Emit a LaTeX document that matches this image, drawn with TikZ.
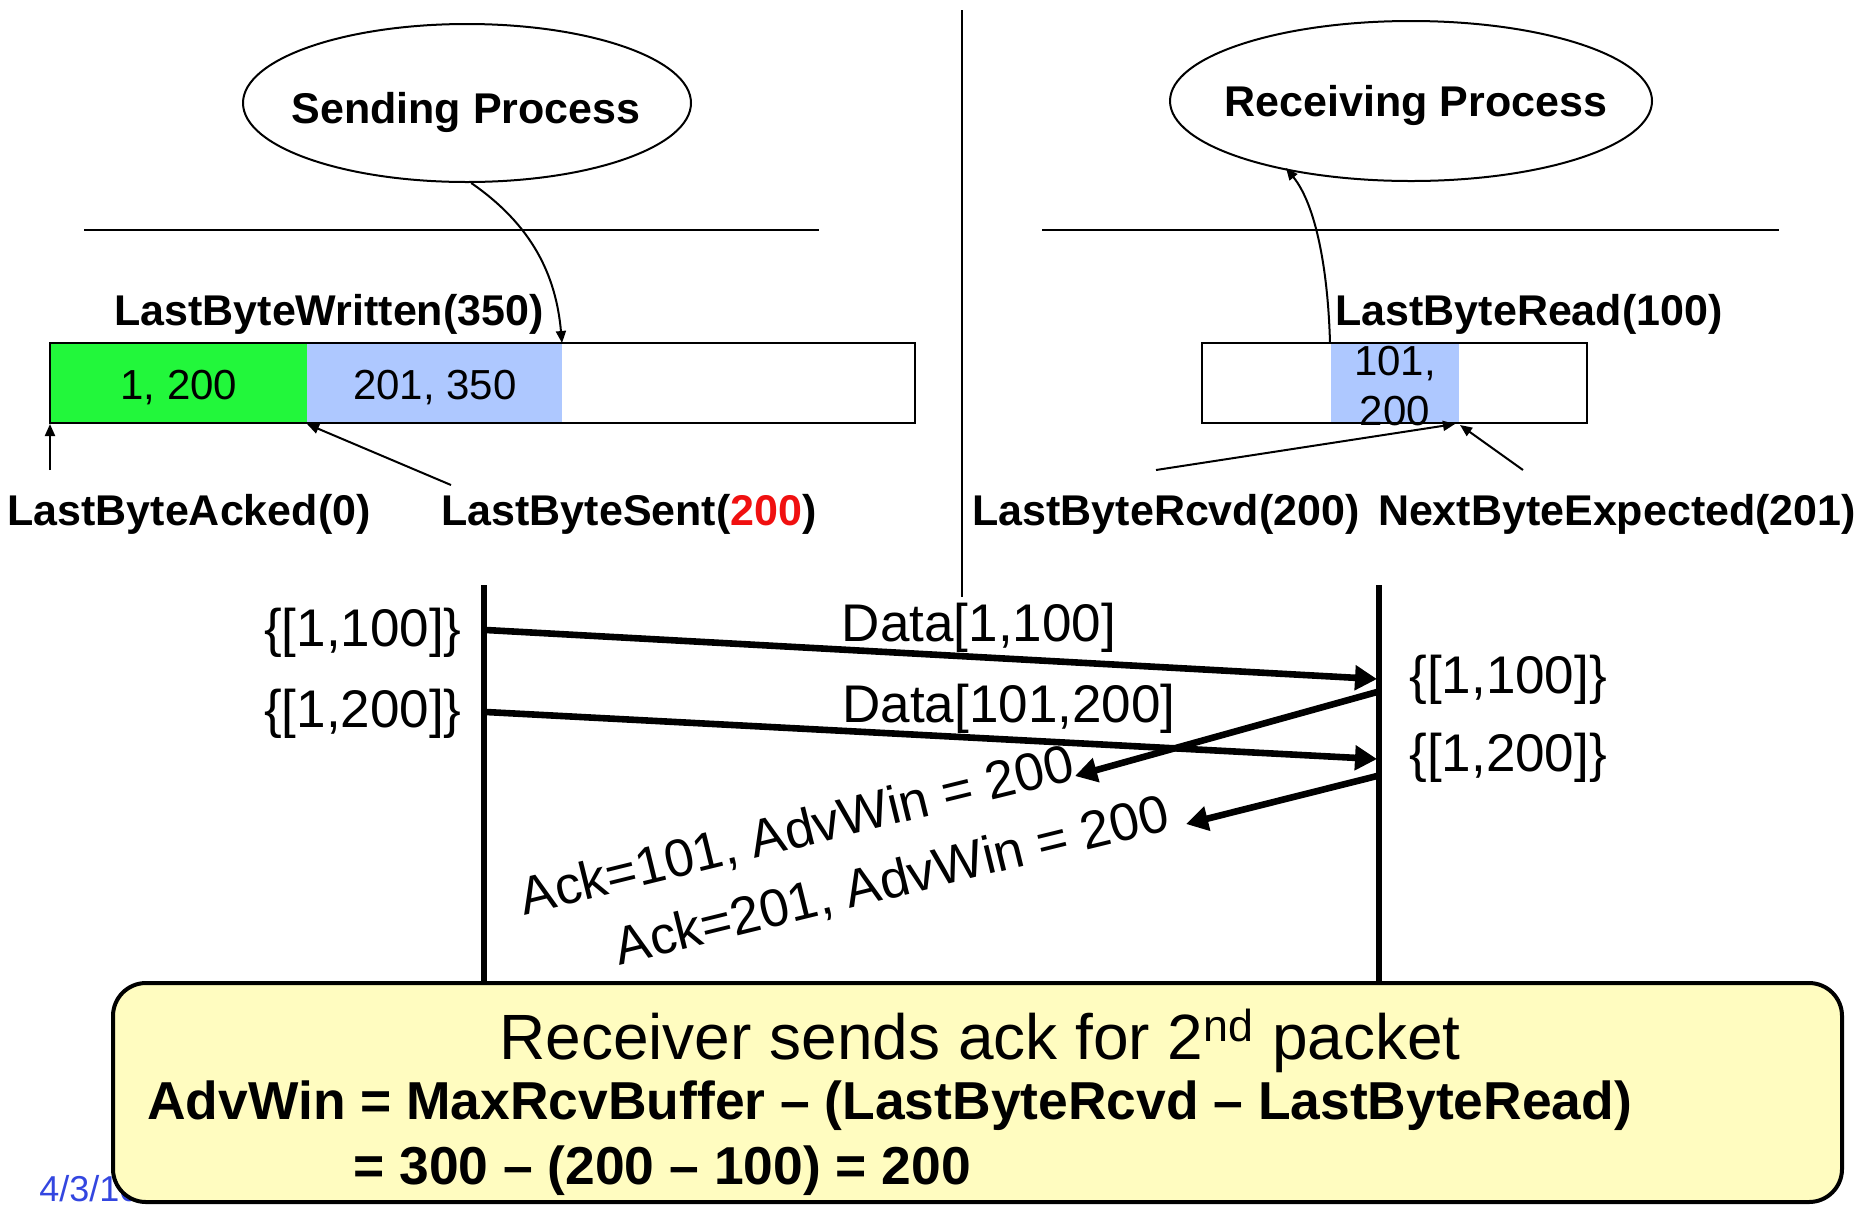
\documentclass[tikz,border=0pt]{standalone}
\usepackage{fontspec}
\setmainfont{Liberation Sans}
\usetikzlibrary{arrows.meta,shapes.geometric}

\definecolor{ackgreen}{HTML}{22F73B}
\definecolor{sentblue}{HTML}{AEC8FF}
\definecolor{noteyellow}{HTML}{FFFCC0}
\definecolor{dateblue}{HTML}{3346E0}
\definecolor{hotred}{HTML}{F01010}

\begin{document}
\begin{tikzpicture}[x=0.5pt,y=-0.5pt,
  proc/.style={ellipse, draw, line width=1pt, inner sep=0pt},
  ptr/.style={font=\fontsize{21.5}{25}\selectfont\bfseries, inner sep=0pt},
  seg/.style={minimum height=40pt, inner sep=0pt},
  segtext/.style={inner sep=0pt, font=\fontsize{21}{25}\selectfont},
  buf/.style={draw, line width=0.8pt, minimum height=40pt, inner sep=0pt},
  rule/.style={line width=1pt},
  thinarrow/.style={line width=1pt, -{Triangle[length=6pt,width=5pt]}},
  msg/.style={line width=3.3pt, -{Triangle[length=11pt,width=12pt]}},
  lifeline/.style={line width=2.8pt},
  seqlabel/.style={font=\fontsize{26.5}{30}\selectfont, inner sep=0pt},
]
\useasboundingbox (0,0) rectangle (1872,1206);

% ---- divider between sender and receiver ----
\coordinate (divtop) at (962,10);
\coordinate (divbot) at (962,597);
\draw[line width=1pt] (divtop) -- (divbot);

% ---- processes ----
\node[proc, minimum width=224pt, minimum height=79pt] (sproc) at (467,103) {};
\node[ptr, anchor=base] (sproct) at (466,123) {Sending Process};
\node[proc, minimum width=241pt, minimum height=80pt] (rproc) at (1411,101) {};
\node[ptr, anchor=base] (rproct) at (1416,116) {Receiving Process};

% ---- kernel boundary rules ----
\coordinate (srl) at (84,230);  \coordinate (srr) at (819,230);
\coordinate (rrl) at (1042,230); \coordinate (rrr) at (1779,230);
\draw[rule] (srl) -- (srr);
\draw[rule] (rrl) -- (rrr);

% ---- sender buffer ----
\node[seg, fill=ackgreen, minimum width=128.5pt] (sacked) at (178.5,383) {};
\node[seg, fill=sentblue, minimum width=127.5pt] (ssent) at (434.5,383) {};
\node[buf, minimum width=432.5pt] (sbuf) at (482.5,383) {};
\node[segtext] (sackedt) at (179,388) {1, 200};
\node[segtext] (ssentt) at (435,388) {201, 350};

\node[ptr, anchor=base] (lbw) at (329,325) {LastByteWritten(350)};
\node[ptr, anchor=base] (lba) at (189,525) {LastByteAcked(0)};
\node[ptr, anchor=base] (lbs) at (629,525) {LastByteSent(\textcolor{hotred}{200})};

\coordinate (wtip) at (562,343);
\draw[thinarrow] (sproc.-87) .. controls (532,225) and (556,275) .. (wtip);
\coordinate (atail) at (50,470);
\coordinate (atip) at (50,424);
\draw[thinarrow] (atail) -- (atip);
\coordinate (stail) at (451,485);
\coordinate (stip) at (307,424);
\draw[thinarrow] (stail) -- (stip);

% ---- receiver buffer ----
\node[seg, fill=sentblue, minimum width=64pt] (rgot) at (1395,383) {};
\node[buf, minimum width=192.5pt] (rbuf) at (1394.5,383) {};
\node[segtext, align=center, font=\fontsize{21}{25}\selectfont] (rgott) at (1395,386) {101,\\200};

\node[ptr, anchor=base] (lbr) at (1529,325) {LastByteRead(100)};
\node[ptr, anchor=base] (lbrc) at (1166,525) {LastByteRcvd(200)};
\node[ptr, anchor=base] (nbe) at (1617,525) {NextByteExpected(201)};

\coordinate (rdtail) at (1330,343);
\coordinate (rdtip) at (1286,168);
\draw[thinarrow] (rdtail) .. controls (1328,270) and (1316,205) .. (rdtip);
\coordinate (rctail) at (1156,470);
\coordinate (rctip) at (1455,424);
\draw[thinarrow] (rctail) -- (rctip);
\coordinate (netail) at (1523,470);
\coordinate (netip) at (1460,425);
\draw[thinarrow] (netail) -- (netip);

% ---- time lines ----
\coordinate (sltop) at (484,585);  \coordinate (slbot) at (484,990);
\coordinate (rltop) at (1379,585); \coordinate (rlbot) at (1379,990);
\draw[lifeline] (sltop) -- (slbot);
\draw[lifeline] (rltop) -- (rlbot);

% ---- segments and acks ----
\coordinate (d1s) at (486,630);  \coordinate (d1e) at (1377,679);
\coordinate (d2s) at (486,712);  \coordinate (d2e) at (1377,759);
\coordinate (a1s) at (1377,692); \coordinate (a1e) at (1075,776);
\coordinate (a2s) at (1377,776); \coordinate (a2e) at (1186,824);
\draw[msg] (d1s) -- (d1e);
\draw[msg] (d2s) -- (d2e);
\draw[msg] (a1s) -- (a1e);
\draw[msg] (a2s) -- (a2e);

\node[seqlabel, anchor=east] (sw1) at (462,633) {\{[1,100]\}};
\node[seqlabel, anchor=east] (sw2) at (462,714) {\{[1,200]\}};
\node[seqlabel, anchor=west] (rw1) at (1409,680) {\{[1,100]\}};
\node[seqlabel, anchor=west] (rw2) at (1409,758) {\{[1,200]\}};
\node[seqlabel] (d1l) at (979,628) {Data[1,100]};
\node[seqlabel] (d2l) at (1009,709) {Data[101,200]};
\node[seqlabel, rotate=13.8] (a1l) at (797,832) {Ack=101, AdvWin = 200};
\node[seqlabel, rotate=13.8] (a2l) at (892,882) {Ack=201, AdvWin = 200};

% ---- footer date, partly hidden by the note ----
\node[anchor=base west, inner sep=0pt, text=dateblue,
  font=\fontsize{18}{21}\selectfont] (date) at (39,1201) {4/3/10};

% ---- explanatory note ----
\node[draw, line width=2pt, rounded corners=16.5pt, fill=noteyellow,
  minimum width=864.5pt, minimum height=109.5pt, inner sep=0pt] (note) at (977.5,1092.5) {};
\node[inner sep=0pt, font=\fontsize{32}{36}\selectfont] (nt1) at (980,1041)
  {Receiver sends ack for 2\textsuperscript{nd} packet};
\node[inner sep=0pt, anchor=west, font=\fontsize{26.7}{30}\selectfont\bfseries] (nt2) at (147,1106)
  {AdvWin = MaxRcvBuffer – (LastByteRcvd – LastByteRead)};
\node[inner sep=0pt, anchor=west, font=\fontsize{26.7}{30}\selectfont\bfseries] (nt3) at (353,1171)
  {= 300 – (200 – 100) = 200};
\end{tikzpicture}
\end{document}
